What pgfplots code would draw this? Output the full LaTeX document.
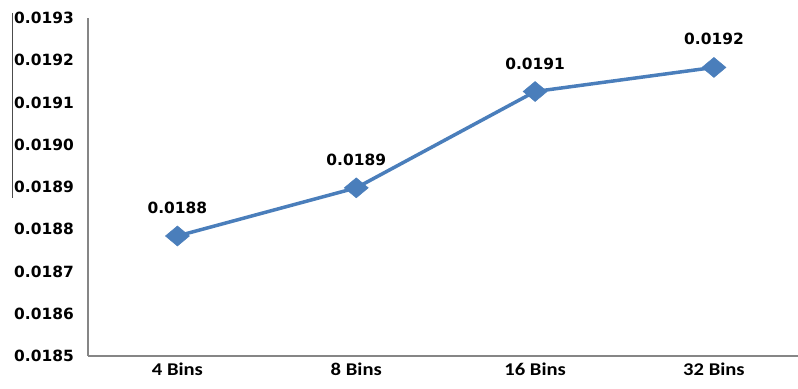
\documentclass[border=0pt]{standalone}
\usepackage{fontspec}
\setmainfont{DejaVu Sans}
\newfontfamily\lblfont{DejaVu Sans}
\newfontfamily\catfont[FakeStretch=1.15]{Carlito}
\usepackage{pgfplots}
\pgfplotsset{compat=1.18}
\definecolor{lineblue}{HTML}{4A7EBB}
\definecolor{axgray}{HTML}{868686}
\begin{document}
\begin{tikzpicture}
\begin{axis}[
  name=ax,
  scale only axis, width=710bp, height=338bp,
  xmin=-0.5, xmax=3.47, ymin=0.0185, ymax=0.0193,
  axis x line*=bottom, axis y line*=left,
  axis line style={draw=axgray, line width=1.5bp},
  xtick={0,1,2,3}, xticklabels={4 Bins,8 Bins,16 Bins,32 Bins},
  ytick={0.0185,0.0186,0.0187,0.0188,0.0189,0.0190,0.0191,0.0192,0.0193},
  scaled y ticks=false,
  major tick length=0pt,
  /pgf/number format/assume math mode=true,
  yticklabel style={/pgf/number format/.cd, fixed, fixed zerofill, precision=4, /tikz/.cd,
     font=\lblfont\bfseries\fontsize{15.5}{15.5}\selectfont, inner sep=0pt, xshift=-14bp},
  xticklabel style={font=\catfont\bfseries\fontsize{18}{18}\selectfont, inner sep=0pt, yshift=-7bp},
  clip=false,
]
\addplot[color=lineblue, line width=3.5bp, mark=diamond*, mark size=10bp,
  mark options={xscale=1.6, fill=lineblue, draw=lineblue, line width=0.5bp},
  nodes near coords, point meta=explicit symbolic,
  every node near coord/.append style={font=\lblfont\bfseries\fontsize{15.5}{15.5}\selectfont, text=black, anchor=south, inner sep=0pt, yshift=22bp}]
table[meta=label] {
x y label
0 0.018784 0.0188
1 0.018898 0.0189
2 0.019126 0.0191
3 0.019183 0.0192
};
\end{axis}
\draw[black!70, line width=1bp] ([xshift=-75bp, yshift=5bp]ax.north west) -- ++(0,-185bp);
\pgfresetboundingbox
\path ([xshift=-88bp, yshift=-33bp]ax.south west) rectangle ([yshift=18bp]ax.north east);
\end{tikzpicture}
\end{document}
